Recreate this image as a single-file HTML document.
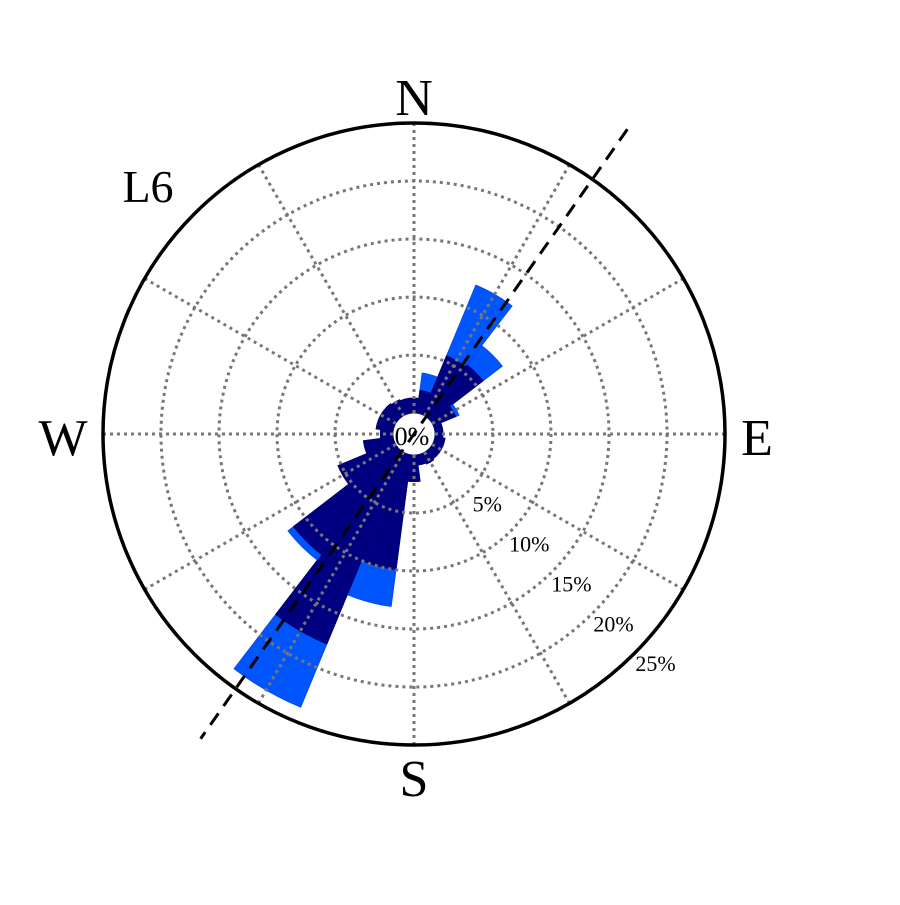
<!DOCTYPE html>
<html><head><meta charset="utf-8"><style>
html,body{margin:0;padding:0;background:#fff}
svg text{font-family:"Liberation Serif",serif;fill:#000}
</style></head><body>
<svg id="chart" width="900" height="900" viewBox="0 0 900 900" xmlns="http://www.w3.org/2000/svg">
<g id="bars"></g>
<g id="overlay"></g>
</svg>
<script>
const directions = [0,15,30,45,60,75,90,105,120,135,150,165,180,195,210,225,240,255,270,285,300,315,330,345];
const innerSeries = [1.3,2.0,5.5,5.7,2.1,0.7,0.7,0.9,0.9,0.9,1.0,0.9,2.3,10.0,17.8,11.3,5.3,2.6,1.1,1.5,1.5,1.5,1.4,1.3];
const totalSeries = [1.3,3.5,12.1,7.8,2.4,0.7,0.7,0.9,0.9,0.9,1.0,0.9,2.3,13.2,23.7,11.9,5.3,2.6,1.1,1.5,1.5,1.5,1.4,1.3];
const ringValues = [5,10,15,20,25];
const ringLabels = ["5%","10%","15%","20%","25%"];
const trendBearing = 35;

const NS='http://www.w3.org/2000/svg';
const cx=414, cy=434, r0=21, scale=11.6, R=311, binW=15;
function rad(v){return r0+v*scale;}
function pt(b,r){const a=b*Math.PI/180;return [cx+r*Math.sin(a), cy-r*Math.cos(a)];}
function mk(tag,attrs,parent){const e=document.createElementNS(NS,tag);for(const k in attrs)e.setAttribute(k,attrs[k]);parent.appendChild(e);return e;}
function sector(b1,b2,ra,rb){
  const p1=pt(b1,ra),p2=pt(b1,rb),p3=pt(b2,rb),p4=pt(b2,ra);
  return `M${p1}L${p2}A${rb},${rb} 0 0 1 ${p3}L${p4}A${ra},${ra} 0 0 0 ${p1}Z`;
}
const bars=document.getElementById('bars'), ov=document.getElementById('overlay');

directions.forEach((d,i)=>{
  const b1=d-binW/2,b2=d+binW/2;
  const outer=mk('path',{d:sector(b1,b2,r0,rad(totalSeries[i])),fill:'#0055ff',stroke:'#0044dd','stroke-width':0.6},bars);
  
  
  const inner=mk('path',{d:sector(b1,b2,r0,rad(innerSeries[i])),fill:'#000080',stroke:'#000060','stroke-width':0.6},bars);
  
  
});

ringValues.forEach((v,i)=>{
  if(v<25){
    const c=mk('circle',{cx:cx,cy:cy,r:rad(v),fill:'none',stroke:'#777','stroke-width':3,'stroke-dasharray':'3,4'},ov);
    
    
  }
  const p=pt(133.5,rad(v)+22);
  const t=mk('text',{x:p[0],y:p[1]+8,'font-size':22,'text-anchor':'middle'},ov);
  t.textContent=ringLabels[i];
  
  
});
for(let b=0;b<360;b+=30){
  const p1=pt(b,r0),p2=pt(b,R);
  const l=mk('line',{x1:p1[0],y1:p1[1],x2:p2[0],y2:p2[1],stroke:'#777','stroke-width':3,'stroke-dasharray':'3,4'},ov);
  
  
}
const oc=mk('circle',{cx:cx,cy:cy,r:R,fill:'none',stroke:'#000','stroke-width':3.5},ov);



const a=pt(trendBearing,372), z=pt(trendBearing+180,372);
const tl=mk('line',{x1:a[0],y1:a[1],x2:z[0],y2:z[1],stroke:'#000','stroke-width':3,'stroke-dasharray':'14,9'},ov);



const labels=[["N",414,115,52],["S",414,796,52],["W",63,455,52],["E",757,455,52],["L6",148,202,46],["0%",412,445,26]];
labels.forEach(l=>{
  const t=mk('text',{x:l[1],y:l[2],'font-size':l[3],'text-anchor':'middle'},ov);
  t.textContent=l[0];
  
  
});
</script>
</body></html>
